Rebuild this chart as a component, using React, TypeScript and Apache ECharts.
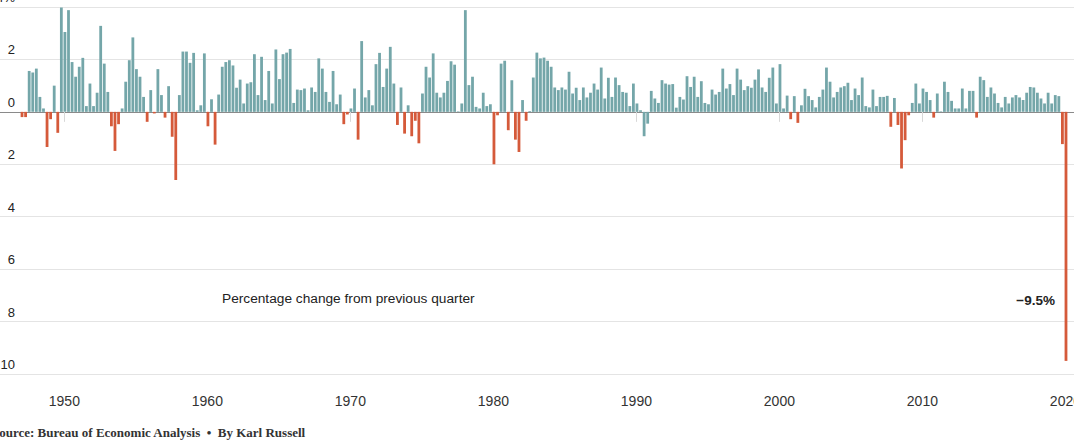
import React, { useEffect, useRef } from "react";
import * as echarts from "echarts";

// Quarterly % change in real GDP, 1947 Q2 – 2020 Q2
const firstYear = 1947;
const firstQuarter = 2;
const g1940s = [-0.2, -0.2, 1.56, 1.5, 1.65, 0.57, 0.13, -1.34, -0.28, 1.0, -0.8];
const g1950s = [3.98, 3.05, 3.88, 1.9, 1.34, 1.72, 2.06, 0.22, 1.08, 0.22, 0.73, 3.28, 1.84, 0.76, -0.55, -1.49, -0.47, 0.13, 1.15, 1.97, 2.84, 1.63, 1.34, 0.57, -0.38, 0.83, -0.06, 1.63, 0.64, -0.22, 0.98, -0.95, -2.6, 0.64, 2.3, 2.3, 1.87, 2.25, 0.06, 0.25];
const g1960s = [2.23, -0.55, 0.48, -1.25, 0.66, 1.72, 1.9, 1.97, 1.77, 0.92, 1.23, 0.32, 1.08, 1.13, 2.2, 0.64, 2.1, 0.45, 1.56, 0.32, 2.38, 1.25, 2.2, 2.26, 2.4, 0.34, 0.85, 0.83, 0.89, 0.06, 0.93, 0.76, 2.04, 1.65, 0.76, 0.38, 1.56, 0.29, 0.66, -0.47];
const g1970s = [-0.1, 0.13, 0.89, -1.06, 2.7, 0.55, 0.83, 0.25, 1.82, 2.25, 0.95, 1.65, 2.48, 1.08, -0.5, 0.93, -0.83, 0.25, -0.93, -0.34, -1.2, 0.7, 1.72, 1.31, 2.23, 0.73, 0.55, 0.73, 1.18, 1.93, 1.8, 0.02, 0.32, 3.88, 1.02, 1.34, 0.19, 0.13, 0.73, 0.22];
const g1980s = [0.29, -2.0, -0.13, 1.84, 1.95, -0.7, 1.21, -1.06, -1.53, 0.45, -0.34, 0.03, 1.31, 2.26, 2.04, 2.07, 1.95, 1.72, 0.93, 0.83, 0.93, 0.85, 1.53, 0.7, 0.92, 0.45, 0.93, 0.55, 0.73, 1.08, 0.85, 1.69, 0.51, 1.3, 0.57, 1.31, 1.02, 0.76, 0.73, 0.22];
const g1990s = [1.08, 0.32, 0.06, -0.93, -0.45, 0.8, 0.51, 0.34, 1.21, 1.08, 1.04, 1.06, 0.16, 0.57, 0.47, 1.36, 0.95, 1.34, 0.57, 1.17, 0.34, 0.29, 0.85, 0.66, 0.76, 1.65, 0.89, 1.06, 0.64, 1.65, 1.23, 0.83, 0.98, 0.92, 1.23, 1.62, 0.93, 0.76, 1.3, 1.69];
const g2000s = [0.32, 1.82, 0.13, 0.62, -0.28, 0.6, -0.42, 0.25, 0.88, 0.6, 0.45, 0.17, 0.57, 0.85, 1.69, 1.15, 0.55, 0.76, 0.93, 0.98, 1.11, 0.45, 0.89, 0.64, 1.31, 0.22, 0.17, 0.85, 0.22, 0.57, 0.57, 0.61, -0.57, 0.53, -0.5, -2.16, -1.08, -0.13, 0.34, 1.08];
const g2010s = [0.32, 0.89, 0.76, 0.45, -0.22, 0.7, 0.02, 1.15, 0.76, 0.42, 0.13, 0.13, 0.89, 0.13, 0.8, 0.8, -0.22, 1.34, 1.21, 0.57, 0.93, 0.7, 0.34, 0.17, 0.57, 0.32, 0.55, 0.64, 0.55, 0.45, 0.73, 0.95, 0.93, 0.73, 0.51, 0.32, 0.73, 0.32, 0.64, 0.6];
const g2020s = [-1.23, -9.5];

// quarters drawn in the neutral colour despite being negative
const neutralQuarters = ["1990 Q4", "1991 Q1"];

const yearTicks = [1950, 1960, 1970, 1980, 1990, 2000, 2010, 2020];
const yTicks = [-10, -8, -6, -4, -2, 0, 2, 4];

const noteText = "Percentage change from previous quarter";
const sourceText = "Source: Bureau of Economic Analysis  \u2022  By Karl Russell";

const TEAL = "#74a6a9";
const RED = "#d55a3a";

export default function App() {
  const ref = useRef<HTMLDivElement>(null);
  useEffect(() => {
    if (!ref.current) return;
    const chart = echarts.init(ref.current, null, { renderer: "svg" });
    const values = [...g1940s, ...g1950s, ...g1960s, ...g1970s, ...g1980s, ...g1990s, ...g2000s, ...g2010s, ...g2020s];
    const data = values.map((v, i) => {
      const n = i + firstQuarter - 1;
      const year = firstYear + Math.floor(n / 4);
      const q = (n % 4) + 1;
      const label = `${year} Q${q}`;
      const x = year + (q - 2) / 4 + 0.04;
      const neg = v < 0 && !neutralQuarters.includes(label);
      return { value: [x, v], name: label, itemStyle: { color: neg ? RED : TEAL } };
    });
    const last = values[values.length - 1];
    const lastLabel = (last < 0 ? "\u2212" : "+") + Math.abs(last).toFixed(1) + "%";
    const zeroIdx = yTicks.indexOf(0);
    const splitColors = yTicks.map((t, i) => (i === zeroIdx ? "#8a8a8a" : "#e4e4e4"));

    chart.setOption({
      animation: false,
      grid: { left: 0, right: 0, top: 7, bottom: 67, containLabel: false, outerBoundsMode: "none" },
      xAxis: {
        type: "value",
        min: 1945.5,
        max: 2020.6,
        axisLine: { show: false },
        splitLine: { show: false },
        axisTick: { show: true, customValues: yearTicks, length: 10, lineStyle: { color: "#d8d8d8" } },
        axisLabel: {
          customValues: yearTicks,
          margin: 20,
          fontSize: 14,
          color: "#333",
          fontFamily: "Liberation Sans",
          formatter: (v: number) => String(v),
        },
      },
      yAxis: {
        type: "value",
        min: -10,
        max: 4,
        interval: 2,
        axisLine: { show: false },
        axisTick: { show: false },
        splitLine: { show: true, lineStyle: { color: splitColors, width: 1 } },
        axisLabel: {
          inside: true,
          margin: 15,
          align: "right",
          verticalAlign: "bottom",
          padding: [0, 0, 3, 0],
          fontSize: 13,
          color: "#222",
          fontFamily: "Liberation Sans",
          formatter: (v: number) => (v === 4 ? "4%" : String(Math.abs(v))),
        },
      },
      series: [
        {
          type: "bar",
          data,
          barWidth: 2.8,
          z: 3,
        },
      ],
      graphic: [
        {
          type: "text",
          left: 222,
          top: 291,
          style: { text: noteText, fontSize: 13.7, fill: "#222", fontFamily: "Liberation Sans" },
        },
        {
          type: "text",
          x: 1055,
          y: 300,
          style: {
            text: lastLabel,
            fontSize: 13.5,
            fontWeight: "bold",
            fill: "#222",
            fontFamily: "Liberation Sans",
            align: "right",
            verticalAlign: "middle",
          },
        },
        {
          type: "text",
          x: -8,
          y: 432,
          style: {
            text: sourceText,
            fontSize: 13,
            fontWeight: "bold",
            fill: "#333",
            fontFamily: "Liberation Serif",
            verticalAlign: "middle",
          },
        },
      ],
    });
    return () => chart.dispose();
  }, []);
  return <div ref={ref} style={{ position: "absolute", left: 0, top: 0, width: 1074, height: 441 }} />;
}
